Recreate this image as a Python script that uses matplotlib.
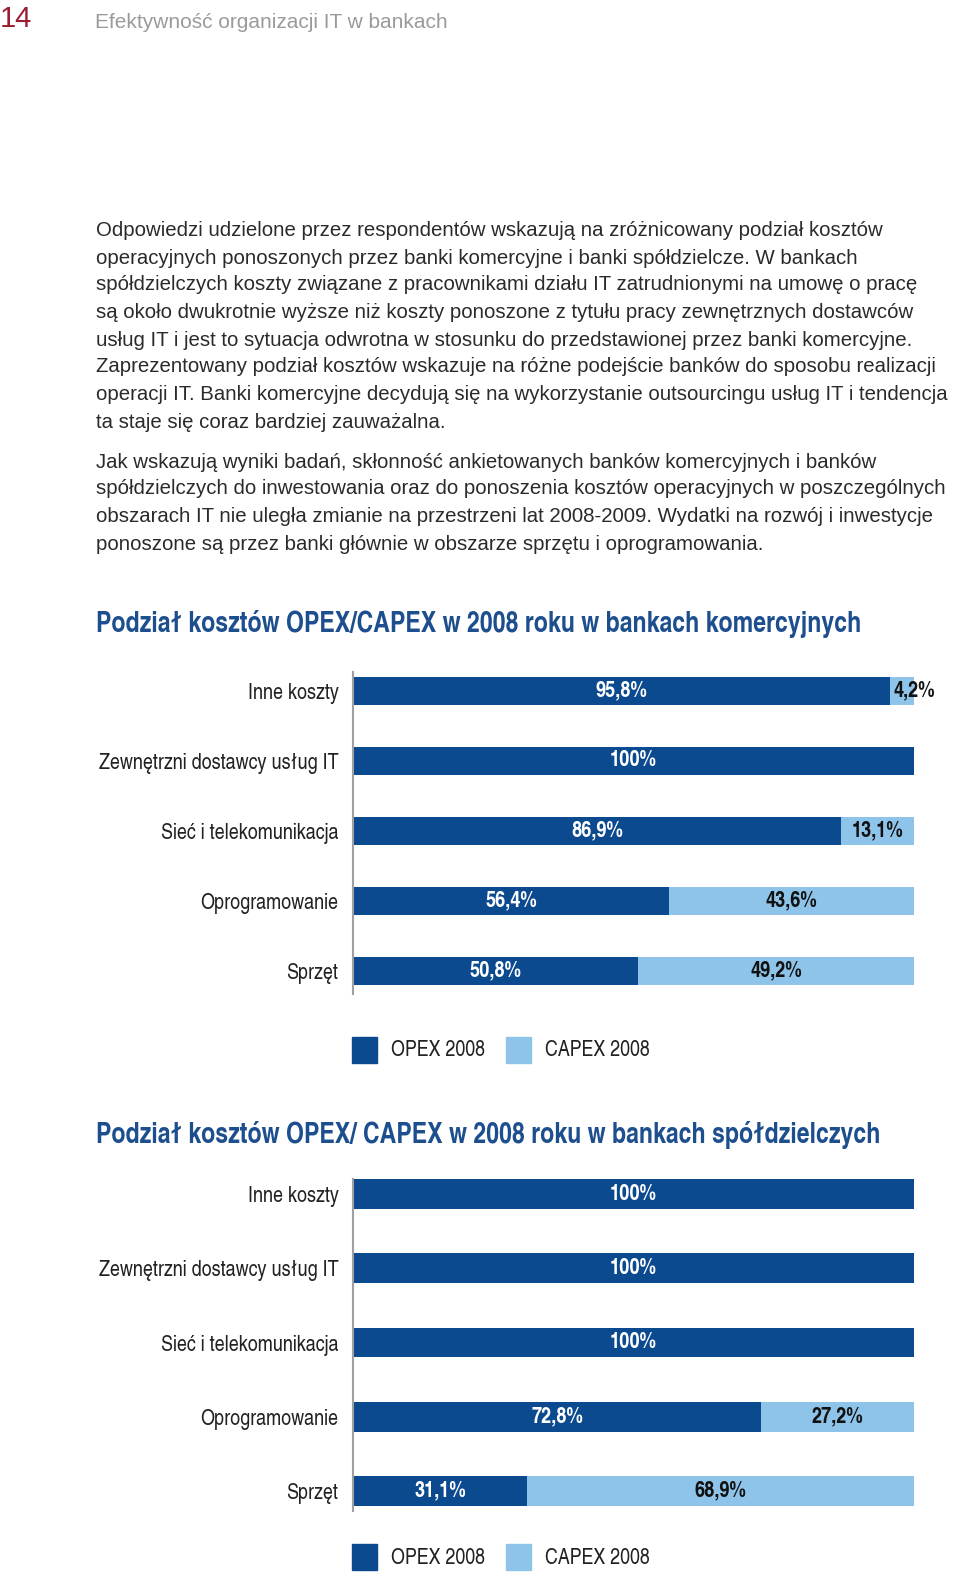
import matplotlib
matplotlib.use("Agg")
import matplotlib.pyplot as plt
from matplotlib.patches import Rectangle

W, H = 960, 1578
categories = ["Inne koszty", "Zewnętrzni dostawcy usług IT", "Sieć i telekomunikacja",
              "Oprogramowanie", "Sprzęt"]
opex_kom = [95.8, 100.0, 86.9, 56.4, 50.8]
capex_kom = [4.2, 0.0, 13.1, 43.6, 49.2]
opex_spol = [100.0, 100.0, 100.0, 72.8, 31.1]
capex_spol = [0.0, 0.0, 0.0, 27.2, 68.9]
series_names = ["OPEX 2008", "CAPEX 2008"]
title_kom = "Podział kosztów OPEX/CAPEX w 2008 roku w bankach komercyjnych"
title_spol = "Podział kosztów OPEX/ CAPEX w 2008 roku w bankach spółdzielczych"

page_no = "14"
header = "Efektywność organizacji IT w bankach"
para1 = [
    "Odpowiedzi udzielone przez respondentów wskazują na zróżnicowany podział kosztów",
    "operacyjnych ponoszonych przez banki komercyjne i banki spółdzielcze. W bankach",
    "spółdzielczych koszty związane z pracownikami działu IT zatrudnionymi na umowę o pracę",
    "są około dwukrotnie wyższe niż koszty ponoszone z tytułu pracy zewnętrznych dostawców",
    "usług IT i jest to sytuacja odwrotna w stosunku do przedstawionej przez banki komercyjne.",
    "Zaprezentowany podział kosztów wskazuje na różne podejście banków do sposobu realizacji",
    "operacji IT. Banki komercyjne decydują się na wykorzystanie outsourcingu usług IT i tendencja",
    "ta staje się coraz bardziej zauważalna.",
]
para2 = [
    "Jak wskazują wyniki badań, skłonność ankietowanych banków komercyjnych i banków",
    "spółdzielczych do inwestowania oraz do ponoszenia kosztów operacyjnych w poszczególnych",
    "obszarach IT nie uległa zmianie na przestrzeni lat 2008-2009. Wydatki na rozwój i inwestycje",
    "ponoszone są przez banki głównie w obszarze sprzętu i oprogramowania.",
]

DARK = "#0c4a8f"
LIGHT = "#8fc4ea"
TITLE_C = "#1d4f8f"
NARROW = ["TeX Gyre Heros Cn", "DejaVu Sans"]
BODY = ["Liberation Sans", "DejaVu Sans"]

fig = plt.figure(figsize=(W / 100, H / 100), dpi=100)


def fx(x):
    return x / W


def fy(y):
    return 1 - y / H


fig.text(fx(0), fy(19), page_no, color="#9b1b30", fontsize=21, family=BODY, va="center", ha="left")
fig.text(fx(95), fy(22), header, color="#9a9a9a", fontsize=15, family=BODY, va="center", ha="left")

body_y1 = [230, 258, 285, 312, 340, 367, 394, 422]
body_y2 = [462, 489, 516, 544]
for lines, ys in ((para1, body_y1), (para2, body_y2)):
    for t, y in zip(lines, ys):
        fig.text(fx(96), fy(y), t, color="#2a2a2a", fontsize=14.7, family=BODY,
                 va="center", ha="left")


def chart(title, title_y, top, bottom, line_top, line_bot, opex, capex, leg_y):
    fig.text(fx(96), fy(title_y), title, color=TITLE_C, fontsize=20.3, fontweight="bold",
             family=NARROW, va="center", ha="left")
    ax = fig.add_axes([fx(353), fy(bottom), (914 - 353) / W, (bottom - top) / H])
    n = len(categories)
    ypos = list(range(n))
    ax.barh(ypos, opex, height=0.4, color=DARK, left=0)
    ax.barh(ypos, capex, height=0.4, color=LIGHT, left=opex)
    ax.set_xlim(0, 100)
    ax.set_ylim(n - 0.5, -0.5)
    for s in ("top", "right", "bottom"):
        ax.spines[s].set_visible(False)
    ax.spines["left"].set_color("#a0a0a0")
    ax.spines["left"].set_linewidth(1.5)
    span = (bottom - top) / n
    ax.spines["left"].set_bounds(-0.5 + (line_top - top) / span, -0.5 + (line_bot - top) / span)
    ax.set_xticks([])
    ax.set_yticks(ypos)
    ax.set_yticklabels(categories, family=NARROW, fontsize=15.8, color="#222222")
    ax.tick_params(axis="y", length=0, pad=10.5)
    for i, (o, c) in enumerate(zip(opex, capex)):
        ax.text(o / 2, i, f"{o:.1f}%".replace(".0%", "%").replace(".", ","), color="white",
                fontsize=16, fontweight="bold", family=NARROW, ha="center", va="center")
        if c > 0:
            lab = f"{c:.1f}%".replace(".", ",")
            if c < 8:
                ax.text(o + 0.6, i, lab, color="#111111", fontsize=16, fontweight="bold",
                        family=NARROW, ha="left", va="center", clip_on=False)
            else:
                ax.text(o + c / 2, i, lab, color="#111111", fontsize=16, fontweight="bold",
                        family=NARROW, ha="center", va="center")
    ax.patch.set_alpha(0)
    # legend
    for x0, col, name, tx in ((352, DARK, series_names[0], 391), (506, LIGHT, series_names[1], 545)):
        fig.add_artist(Rectangle((fx(x0), fy(leg_y + 13)), 25 / W, 26 / H, color=col,
                                 transform=fig.transFigure))
        fig.text(fx(tx), fy(leg_y + 1), name, color="#222222", fontsize=15.7, family=NARROW,
                 va="center", ha="left")


chart(title_kom, 624, 656, 1006, 672, 994, opex_kom, capex_kom, 1050)
chart(title_spol, 1135, 1157, 1528, 1179, 1511, opex_spol, capex_spol, 1557)

fig.savefig("out.png", dpi=100)
